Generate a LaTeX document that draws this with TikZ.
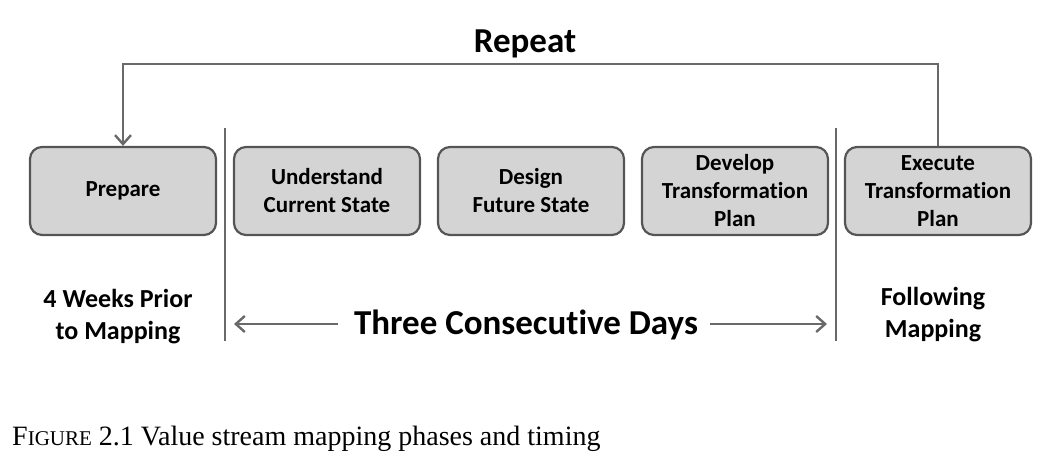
\documentclass[tikz,border=0pt]{standalone}
\usepackage{fontspec}
\setmainfont[Ligatures={NoCommon}]{Carlito}
\newfontfamily\capfont{Liberation Serif}
\usetikzlibrary{arrows.meta}
\definecolor{boxfill}{RGB}{212,212,212}
\definecolor{boxline}{RGB}{85,85,85}
\definecolor{conn}{RGB}{105,105,105}
\begin{document}
\begin{tikzpicture}[x=1pt,y=-1pt,
  phase/.style={draw=boxline,line width=2.2pt,fill=boxfill,rounded corners=12pt,
    minimum width=186pt,minimum height=88pt,align=center,font=\fontsize{23}{28}\selectfont\bfseries,text=black,inner sep=0pt},
  lbl/.style={align=center,font=\fontsize{26}{32}\selectfont\bfseries},
  conline/.style={draw=conn,line width=2.6pt},
  arr/.style={conline,-{Straight Barb[length=9pt,width=16pt,line width=2.4pt]}}]
\useasboundingbox (0,0) rectangle (1064,462);
\node[phase] (prep) at (123,191) {Prepare};
\node[phase] (und) at (327,191) {Understand\\Current State};
\node[phase] (des) at (531,191) {Design\\Future State};
\node[phase] (dev) at (735,191) {Develop\\Transformation\\Plan};
\node[phase] (exe) at (938,191) {Execute\\Transformation\\Plan};
\coordinate (tl) at (123,64);
\coordinate (tr) at (938,64);
\draw[arr] (exe.north) -- (tr) -- (tl) -- (prep.north);
\node[font=\fontsize{35}{38}\selectfont\bfseries] (rep) at (525,44) {Repeat};
\coordinate (v1t) at (225,128); \coordinate (v1b) at (225,341);
\coordinate (v2t) at (836,128); \coordinate (v2b) at (836,341);
\draw[conline] (v1t) -- (v1b);
\draw[conline] (v2t) -- (v2b);
\node[lbl] (weeks) at (118,317) {4 Weeks Prior\\to Mapping};
\node[lbl] (follow) at (933,315) {Following\\Mapping};
\node[font=\fontsize{35}{38}\selectfont\bfseries,inner sep=0pt] (three) at (526,325) {Three Consecutive Days};
\coordinate (la) at (234,324);
\coordinate (ra) at (827,324);
\draw[arr] (three.west) ++(-16,-1) -- (la);
\draw[arr] (three.east) ++(12,-1) -- (ra);
\node[anchor=base west,inner sep=0pt,font=\capfont\fontsize{28}{30}\selectfont] (cap) at (12,445) {F{\fontsize{21}{24}\selectfont IGURE} 2.1 Value stream mapping phases and timing};
\end{tikzpicture}
\end{document}
